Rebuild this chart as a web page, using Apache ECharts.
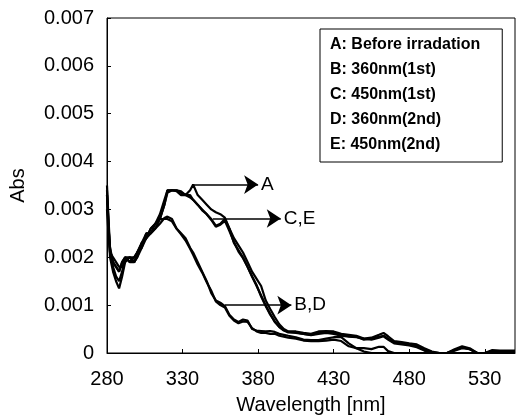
<!DOCTYPE html>
<html>
<head>
<meta charset="utf-8">
<script src="https://cdn.jsdelivr.net/npm/echarts@6/dist/echarts.min.js"></script>
<style>
html,body{margin:0;padding:0;background:#fff;}
#chart{width:517px;height:415px;}
</style>
</head>
<body>
<div id="chart"></div>
<script>
const wl = [280,281,282,284,286,288,290,292,295,298,300,303,306,309,312,315,318,320,323,326,329,332,335,337,340,343,346,349,352,355,358,361,364,367,370,373,376,379,382,385,388,391,394,397,400,405,410,415,420,425,430,435,440,445,450,455,460,463,466,470,475,480,485,490,495,500,505,510,515,520,525,530,535,540,545,550];

const absA = [.0035,.0028,.0022,.0019,.0018,.0017,.0019,.0020,.0020,.0019,.0021,.0023,.0025,.0025,.0027,.0028,.0031,.0034,.0034,.0034,.00338,.0033,.0034,.00352,.0033,.0032,.0031,.0030,.00294,.0029,.00283,.0026,.0024,.00225,.0021,.0019,.0017,.00155,.0014,.0011,.00092,.00075,.0006,.0005,.00045,.00045,.00042,.0004,.00045,.00046,.00045,.0004,.00038,.00036,.0003,.00032,.00038,.00042,.00035,.00025,.00023,.0002,.00018,.0001,.00003,0,0,.00008,.00014,.0001,0,0,.00006,.00005,.00005,.00005];

const absB = [.0033,.0027,.0020,.0017,.0015,.00135,.0016,.0019,.0020,.0019,.0020,.0023,.0024,.0025,.0026,.0027,.00282,.00285,.0028,.0026,.0025,.0024,.0022,.0021,.0019,.0017,.0015,.00125,.0011,.00105,.00098,.0008,.0007,.00065,.0007,.00068,.0005,.00047,.00046,.00045,.00046,.00044,.0004,.00038,.00036,.00033,.00028,.00027,.00027,.0003,.00033,.00033,.0002,.0001,.00003,0,0,0,0,0,0,0,0,0,0,0,0,0,0,0,0,0,0,0,0,0];

const absC = [.0034,.0027,.0021,.0020,.0019,.0018,.0018,.0019,.0020,.0020,.0021,.0023,.0024,.0026,.0027,.0029,.0032,.0034,.0034,.0034,.00335,.0033,.0033,.0032,.0031,.0030,.0029,.0028,.00266,.0027,.0028,.0026,.0023,.00215,.0020,.0018,.0016,.0014,.0012,.0010,.00082,.00065,.00055,.00048,.00044,.00042,.0004,.00038,.00042,.00044,.00042,.00038,.00035,.00034,.00028,.0003,.00034,.00036,.0003,.00022,.0002,.00018,.00015,.00008,.00002,0,0,.00006,.00012,.00008,0,0,.00004,.00004,.00003,.00004];

const absD = [.0030,.0025,.0021,.0019,.0018,.0017,.0019,.0020,.0019,.0020,.0021,.0022,.0024,.0026,.0027,.0028,.0028,.0028,.00275,.0026,.00248,.00235,.00218,.00205,.00185,.00168,.00148,.0013,.00108,.001,.00095,.00078,.00068,.00062,.00066,.00065,.00052,.00045,.00042,.00042,.0004,.0004,.00036,.00034,.00032,.0003,.00026,.00025,.00025,.00026,.00028,.00025,.00014,.0001,.0001,.00008,.00013,.00013,.00004,0,0,0,0,0,0,0,0,0,0,0,0,0,0,0,0,0];

const absE = [.0033,.0026,.0022,.0018,.0016,.0015,.0017,.0020,.0019,.0019,.0020,.0022,.0025,.0025,.0026,.0028,.0031,.00335,.0034,.00338,.0033,.0033,.00325,.0032,.0031,.00298,.0029,.00278,.00264,.00268,.00276,.00255,.00232,.00212,.00198,.0018,.0016,.00142,.00118,.00098,.0008,.00066,.00054,.00047,.00043,.00043,.0004,.00037,.0004,.00042,.0004,.00036,.00034,.00033,.0003,.00028,.00032,.00035,.00028,.0002,.00018,.00016,.00012,.00005,0,0,0,.00005,.0001,.00008,0,0,.00003,.00003,.00003,.00003];

const seriesNames = ['A: Before irradation','B: 360nm(1st)','C: 450nm(1st)','D: 360nm(2nd)','E: 450nm(2nd)'];
const seriesValues = [absA, absB, absC, absD, absE];

const xTicks = [280,330,380,430,480,530];

const arrowLabels = ['A','C,E','B,D'];
const arrowStartX = [337,350,358];
const arrowEndX = [380,395,402];
const arrowY = [0.00352,0.00281,0.001];

const font = 'Liberation Sans, Arial, sans-serif';

const series = seriesNames.map((name, k) => ({
  name: name,
  type: 'line',
  data: wl.map((w, i) => [w, seriesValues[k][i]]),
  showSymbol: false,
  symbol: 'none',
  lineStyle: {color: '#000', width: 2.2},
  itemStyle: {color: '#000'},
  emphasis: {disabled: true},
  silent: true,
  z: 3
}));

series[0].markLine = {
  silent: true,
  animation: false,
  symbol: ['none','arrow'],
  symbolSize: 14,
  itemStyle: {color: '#000'},
  lineStyle: {color: '#000', width: 1.5, type: 'solid'},
  label: {show: true, position: 'end', formatter: '{b}', color: '#000', fontSize: 19, fontFamily: font, distance: 3},
  emphasis: {disabled: true},
  data: arrowLabels.map((lab, i) => [
    {name: lab, coord: [arrowStartX[i], arrowY[i]], symbol: 'none'},
    {coord: [arrowEndX[i], arrowY[i]], symbol: 'arrow', symbolSize: 14}
  ])
};

const chart = echarts.init(document.getElementById('chart'), null, {renderer: 'canvas'});
chart.setOption({
  animation: false,
  backgroundColor: '#fff',
  grid: {left: 107, right: 2, top: 18, bottom: 62, show: true, borderColor: '#000', borderWidth: 1, containLabel: false, outerBoundsMode: 'none'},
  legend: {
    show: true,
    data: seriesNames,
    orient: 'vertical',
    left: 320,
    top: 29,
    icon: 'none',
    itemWidth: 0,
    itemHeight: 14,
    itemGap: 9,
    padding: [8, 22, 9, 5],
    borderColor: '#000',
    borderWidth: 1,
    backgroundColor: '#fff',
    selectedMode: false,
    textStyle: {color: '#000', fontSize: 16, fontWeight: 'bold', fontFamily: font}
  },
  xAxis: {
    type: 'value',
    min: 280,
    max: 550,
    name: 'Wavelength [nm]',
    nameLocation: 'middle',
    nameGap: 42,
    nameTextStyle: {color: '#000', fontSize: 20, fontFamily: font},
    axisLine: {show: true, lineStyle: {color: '#000', width: 1}},
    axisTick: {show: true, inside: true, length: 4, customValues: xTicks, lineStyle: {color: '#000'}},
    axisLabel: {show: true, customValues: xTicks, margin: 16, color: '#000', fontSize: 20, fontFamily: font},
    splitLine: {show: false}
  },
  yAxis: {
    type: 'value',
    min: 0,
    max: 0.007,
    interval: 0.001,
    name: 'Abs',
    nameLocation: 'middle',
    nameGap: 79,
    nameTextStyle: {color: '#000', fontSize: 20, fontFamily: font},
    axisLine: {show: true, lineStyle: {color: '#000', width: 1}},
    axisTick: {show: true, inside: true, length: 4, lineStyle: {color: '#000'}},
    axisLabel: {
      show: true, margin: 13, color: '#000', fontSize: 20, fontFamily: font,
      formatter: v => (Math.abs(v) < 1e-9 ? '0' : v.toFixed(3))
    },
    splitLine: {show: false}
  },
  series: series
});
</script>
</body>
</html>
